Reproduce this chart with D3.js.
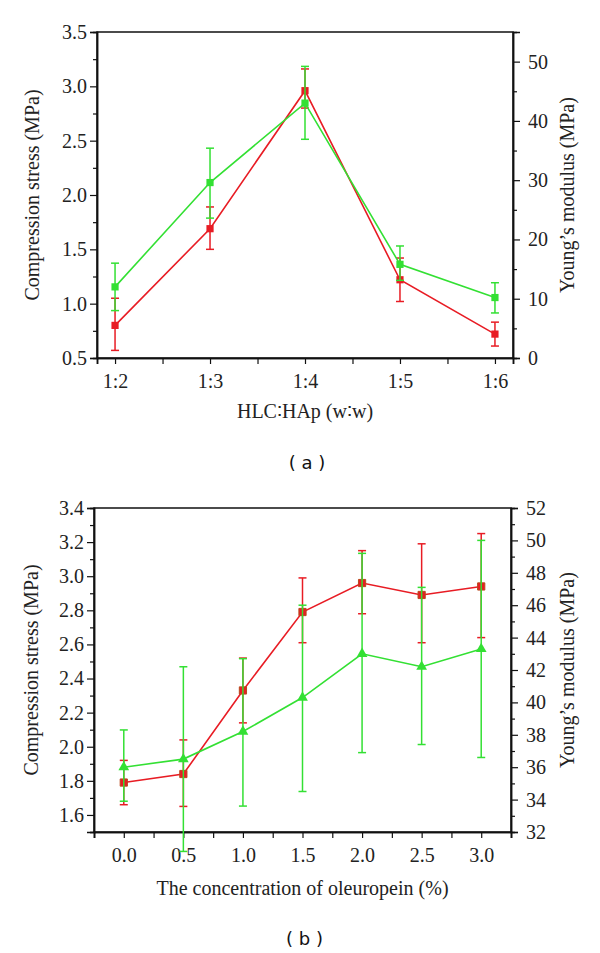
<!DOCTYPE html>
<html>
<head>
<meta charset="utf-8">
<script src="https://cdn.jsdelivr.net/npm/d3@7"></script>
<style>
body { margin: 0; background: #fff; }
svg { display: block; }
</style>
</head>
<body>
<svg id="chart" width="600" height="953"></svg>
<script>
// ---------- panel (a) data
const ratiosA = ["1:2", "1:3", "1:4", "1:5", "1:6"]
const stressA = [0.80, 1.69, 2.96, 1.22, 0.72]
const stressLoA = [0.57, 1.50, 2.80, 1.02, 0.61]
const stressHiA = [1.05, 1.89, 3.16, 1.42, 0.83]
const modulusA = [12.0, 29.6, 43.0, 15.8, 10.2]
const modulusLoA = [8.0, 23.6, 36.9, 13.1, 7.6]
const modulusHiA = [16.0, 35.4, 49.2, 18.9, 12.7]
const leftTicksA = [0.5, 1.0, 1.5, 2.0, 2.5, 3.0, 3.5]
const rightTicksA = [0, 10, 20, 30, 40, 50]

// ---------- panel (b) data
const concB = [0.0, 0.5, 1.0, 1.5, 2.0, 2.5, 3.0]
const stressB = [1.79, 1.84, 2.33, 2.79, 2.96, 2.89, 2.94]
const stressLoB = [1.66, 1.65, 2.14, 2.61, 2.78, 2.61, 2.64]
const stressHiB = [1.92, 2.04, 2.52, 2.99, 3.15, 3.19, 3.25]
const modulusB = [36.0, 36.5, 38.2, 40.3, 43.0, 42.2, 43.3]
const modulusLoB = [33.9, 30.8, 33.6, 34.5, 36.9, 37.4, 36.6]
const modulusHiB = [38.3, 42.2, 42.7, 46.0, 49.2, 47.1, 50.0]
const leftTicksB = [1.6, 1.8, 2.0, 2.2, 2.4, 2.6, 2.8, 3.0, 3.2, 3.4]
const rightTicksB = [32, 34, 36, 38, 40, 42, 44, 46, 48, 50, 52]
const xTicksB = [0.0, 0.5, 1.0, 1.5, 2.0, 2.5, 3.0]

const RED = "#e81c24"
const GREEN = "#33e033"
const serif = "'Liberation Serif', 'Times New Roman', serif"

const svg = d3.select("#chart")

function drawPanel(p){
    const g = svg.append("g")

    const x = d3.scaleLinear().domain(p.xDomain).range([p.left, p.right])
    const yL = d3.scaleLinear().domain(p.leftDomain).range([p.bottom, p.top])
    const yR = d3.scaleLinear().domain(p.rightDomain).range([p.bottom, p.top])

    // frame
    g.append("rect")
        .attr("x", p.left).attr("y", p.top)
        .attr("width", p.right - p.left).attr("height", p.bottom - p.top)
        .attr("fill", "none").attr("stroke", "#111").attr("stroke-width", 1.5)

    //----------------axes
    const axL = g.append("g").attr("transform", "translate(" + p.left + ",0)")
        .call(d3.axisLeft(yL).tickValues(p.leftTicks).tickFormat(d3.format(".1f")).tickSize(7).tickPadding(3))
    const axLm = g.append("g").attr("transform", "translate(" + p.left + ",0)")
        .call(d3.axisLeft(yL).tickValues(p.leftMinor).tickFormat("").tickSize(4))
    const axR = g.append("g").attr("transform", "translate(" + p.right + ",0)")
        .call(d3.axisRight(yR).tickValues(p.rightTicks).tickFormat(d3.format("d")).tickSize(7).tickPadding(8))
    const axRm = g.append("g").attr("transform", "translate(" + p.right + ",0)")
        .call(d3.axisRight(yR).tickValues(p.rightMinor).tickFormat("").tickSize(4))
    const axB = g.append("g").attr("transform", "translate(0," + p.bottom + ")")
        .call(d3.axisBottom(x).tickValues(p.xTicks).tickFormat(p.xFormat).tickSize(6).tickPadding(10))
    const axBm = g.append("g").attr("transform", "translate(0," + p.bottom + ")")
        .call(d3.axisBottom(x).tickValues(p.xMinor).tickFormat("").tickSize(6))

    for (let a of [axL, axLm, axR, axRm, axB, axBm]){
        a.select(".domain").attr("stroke", "#111").attr("stroke-width", 1.5)
        a.selectAll(".tick line").attr("stroke", "#111").attr("stroke-width", 1.2)
        a.selectAll("text").attr("font-family", serif).attr("font-size", 20).attr("fill", "#222")
    }

    // axis titles
    g.append("text")
        .attr("transform", "translate(" + p.leftTitleX + "," + (p.top + p.bottom) / 2 + ") rotate(-90)")
        .attr("text-anchor", "middle").attr("dy", "0.35em")
        .attr("font-family", serif).attr("font-size", 20).attr("fill", "#222")
        .text("Compression stress (MPa)")
    g.append("text")
        .attr("transform", "translate(" + p.rightTitleX + "," + (p.top + p.bottom) / 2 + ") rotate(-90)")
        .attr("text-anchor", "middle").attr("dy", "0.35em")
        .attr("font-family", serif).attr("font-size", 20).attr("fill", "#222")
        .text("Young\u2019s modulus (MPa)")
    g.append("text")
        .attr("x", (p.left + p.right) / 2).attr("y", p.xTitleY)
        .attr("text-anchor", "middle")
        .attr("font-family", serif).attr("font-size", 20).attr("fill", "#222")
        .text(p.xTitle)
    g.append("text")
        .attr("x", (p.left + p.right) / 2 + 2).attr("y", p.labelY)
        .attr("text-anchor", "middle")
        .attr("font-family", "'DejaVu Sans', sans-serif").attr("font-size", 18).attr("fill", "#111")
        .attr("xml:space", "preserve")
        .text(p.label)

    //----------------series
    const series = [
        {xs: p.xs, v: p.redV, lo: p.redLo, hi: p.redHi, y: yL, color: RED, marker: "square"},
        {xs: p.xs, v: p.greenV, lo: p.greenLo, hi: p.greenHi, y: yR, color: GREEN, marker: p.greenMarker}
    ]
    const cap = 4
    for (let s of series){
        const pts = s.xs.map((d, i) => ({x: d, v: s.v[i], lo: s.lo[i], hi: s.hi[i]}))
        g.append("path")
            .attr("d", d3.line().x(d => x(d.x)).y(d => s.y(d.v))(pts))
            .attr("fill", "none").attr("stroke", s.color).attr("stroke-width", 1.6)

        const eb = g.append("g").attr("stroke", s.color).attr("stroke-width", 1.5)
        eb.selectAll(".v").data(pts).join("line")
            .attr("x1", d => x(d.x)).attr("x2", d => x(d.x))
            .attr("y1", d => s.y(d.lo)).attr("y2", d => s.y(d.hi))
        eb.selectAll(".t").data(pts).join("line")
            .attr("x1", d => x(d.x) - cap).attr("x2", d => x(d.x) + cap)
            .attr("y1", d => s.y(d.hi)).attr("y2", d => s.y(d.hi))
        eb.selectAll(".b").data(pts).join("line")
            .attr("x1", d => x(d.x) - cap).attr("x2", d => x(d.x) + cap)
            .attr("y1", d => s.y(d.lo)).attr("y2", d => s.y(d.lo))

        const sym = s.marker == "square" ? d3.symbolSquare : d3.symbolTriangle
        const size = s.marker == "square" ? 52 : 50
        g.selectAll(null).data(pts).join("path")
            .attr("transform", d => "translate(" + x(d.x) + "," + s.y(d.v) + ")")
            .attr("d", d3.symbol().type(sym).size(size))
            .attr("fill", s.color)
            .attr("stroke", p.markerStroke && s.marker == "square" ? p.markerStroke : "none")
            .attr("stroke-width", 1)
    }
}

drawPanel({
    left: 97, right: 513, top: 32, bottom: 358,
    xDomain: [1.81, 6.19],
    xTicks: [2, 3, 4, 5, 6],
    xMinor: [2.5, 3.5, 4.5, 5.5],
    xFormat: (d, i) => ratiosA[i],
    leftDomain: [0.5, 3.5],
    leftTicks: leftTicksA,
    leftMinor: d3.range(0.75, 3.5, 0.5),
    rightDomain: [0, 55],
    rightTicks: rightTicksA,
    rightMinor: [5, 15, 25, 35, 45],
    xs: [2, 3, 4, 5, 6],
    redV: stressA, redLo: stressLoA, redHi: stressHiA,
    greenV: modulusA, greenLo: modulusLoA, greenHi: modulusHiA,
    greenMarker: "square",
    leftTitleX: 32, rightTitleX: 567,
    xTitle: "HLC\u2236HAp (w\u2236w)", xTitleY: 418,
    label: "( a )", labelY: 469
})

drawPanel({
    left: 94, right: 511, top: 508, bottom: 832,
    xDomain: [-0.25, 3.25],
    xTicks: xTicksB,
    xMinor: [-0.25, 0.25, 0.75, 1.25, 1.75, 2.25, 2.75, 3.25],
    xFormat: d3.format(".1f"),
    leftDomain: [1.5, 3.4],
    leftTicks: leftTicksB,
    leftMinor: d3.range(1.5, 3.35, 0.2),
    rightDomain: [32, 52],
    rightTicks: rightTicksB,
    rightMinor: d3.range(33, 52, 2),
    xs: concB,
    redV: stressB, redLo: stressLoB, redHi: stressHiB,
    greenV: modulusB, greenLo: modulusLoB, greenHi: modulusHiB,
    greenMarker: "triangle",
    markerStroke: "#b84a1c",
    leftTitleX: 31, rightTitleX: 567,
    xTitle: "The concentration of oleuropein (%)", xTitleY: 895,
    label: "( b )", labelY: 945
})
</script>
</body>
</html>
